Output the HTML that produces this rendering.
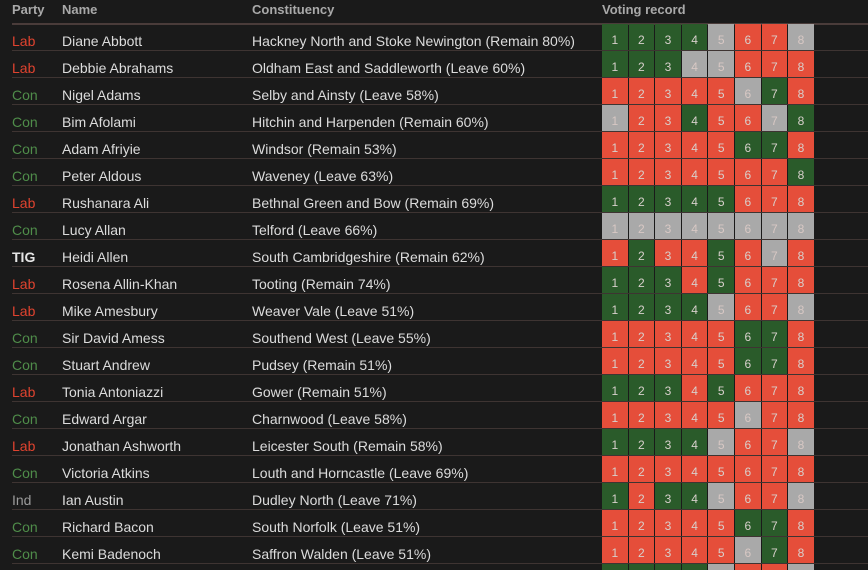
<!DOCTYPE html>
<html><head><meta charset="utf-8">
<style>
html,body{margin:0;background:#1a1a1a;width:868px;height:570px;overflow:hidden;font-family:"Liberation Sans","DejaVu Sans",sans-serif;}
#wrap{position:relative;width:868px;height:570px;overflow:hidden;}
.hdr{position:absolute;top:2px;font-size:13px;font-weight:bold;color:#a9a9a9;}
.hline{position:absolute;left:12px;right:0;top:23px;height:2px;background:#4a3c3a;}
.row{position:absolute;left:0;width:868px;height:27px;}
.row .sep{position:absolute;left:12px;right:0;bottom:0;height:1px;background:#3e3432;}
.t{position:absolute;top:9px;font-size:14px;color:#dcdcdc;white-space:nowrap;}
.party{left:12px;}
.Lab{color:#e0432f}.Con{color:#4f8d4a}.TIG{color:#e6e6e6;font-weight:bold}.Ind{color:#9a9a9a}
.name{left:62px}.con{left:252px}
.cell{position:absolute;top:0;height:26px;width:25.6px;font-size:12px;color:#d8d0cc;text-align:center;line-height:33px;overflow:hidden;}
.G{background:#2a5b2a}.R{background:#e54e3a}.A{background:#a9a9a9;color:#d8c8c4}
</style></head><body>
<div id="wrap">
<div class="hdr" style="left:12px">Party</div>
<div class="hdr" style="left:62px">Name</div>
<div class="hdr" style="left:252px">Constituency</div>
<div class="hdr" style="left:602px">Voting record</div>
<div class="hline"></div>
</div>
<script>
const parties=["Lab","Lab","Con","Con","Con","Con","Lab","Con","TIG","Lab","Lab","Con","Con","Lab","Con","Lab","Con","Ind","Con","Con",""];
const names=["Diane Abbott","Debbie Abrahams","Nigel Adams","Bim Afolami","Adam Afriyie","Peter Aldous","Rushanara Ali","Lucy Allan","Heidi Allen","Rosena Allin-Khan","Mike Amesbury","Sir David Amess","Stuart Andrew","Tonia Antoniazzi","Edward Argar","Jonathan Ashworth","Victoria Atkins","Ian Austin","Richard Bacon","Kemi Badenoch",""];
const constituencies=["Hackney North and Stoke Newington (Remain 80%)","Oldham East and Saddleworth (Leave 60%)","Selby and Ainsty (Leave 58%)","Hitchin and Harpenden (Remain 60%)","Windsor (Remain 53%)","Waveney (Leave 63%)","Bethnal Green and Bow (Remain 69%)","Telford (Leave 66%)","South Cambridgeshire (Remain 62%)","Tooting (Remain 74%)","Weaver Vale (Leave 51%)","Southend West (Leave 55%)","Pudsey (Remain 51%)","Gower (Remain 51%)","Charnwood (Leave 58%)","Leicester South (Remain 58%)","Louth and Horncastle (Leave 69%)","Dudley North (Leave 71%)","South Norfolk (Leave 51%)","Saffron Walden (Leave 51%)",""];
const votes=["GGGGARRA","GGGAARRR","RRRRRAGR","ARRGRRAG","RRRRRGGR","RRRRRRRG","GGGGGRRR","AAAAAAAA","RGRRGRAR","GGGRGRRR","GGGGARRA","RRRRRGGR","RRRRRGGR","GGGRGRRR","RRRRRARR","GGGGARRA","RRRRRRRR","GRGGARRA","RRRRRGGR","RRRRRAGR","GGGGARRA"];
const wrap=document.getElementById('wrap');
for(let i=0;i<votes.length;i++){
  const row=document.createElement('div');
  row.className='row';row.style.top=(24+27*i)+'px';
  
  
  const sep=document.createElement('div');sep.className='sep';
  
  
  row.appendChild(sep);
  const p=document.createElement('div');p.className='t party '+parties[i];p.textContent=parties[i];
  
  
  row.appendChild(p);
  const n=document.createElement('div');n.className='t name';n.textContent=names[i];
  
  
  row.appendChild(n);
  const c=document.createElement('div');c.className='t con';c.textContent=constituencies[i];
  
  
  row.appendChild(c);
  for(let j=0;j<8;j++){
    const cell=document.createElement('div');
    cell.className='cell '+votes[i][j];
    cell.style.left=(602+j*26.6)+'px';
    cell.textContent=j+1;
    
    
    row.appendChild(cell);
  }
  wrap.appendChild(row);
}
</script>
</body></html>
